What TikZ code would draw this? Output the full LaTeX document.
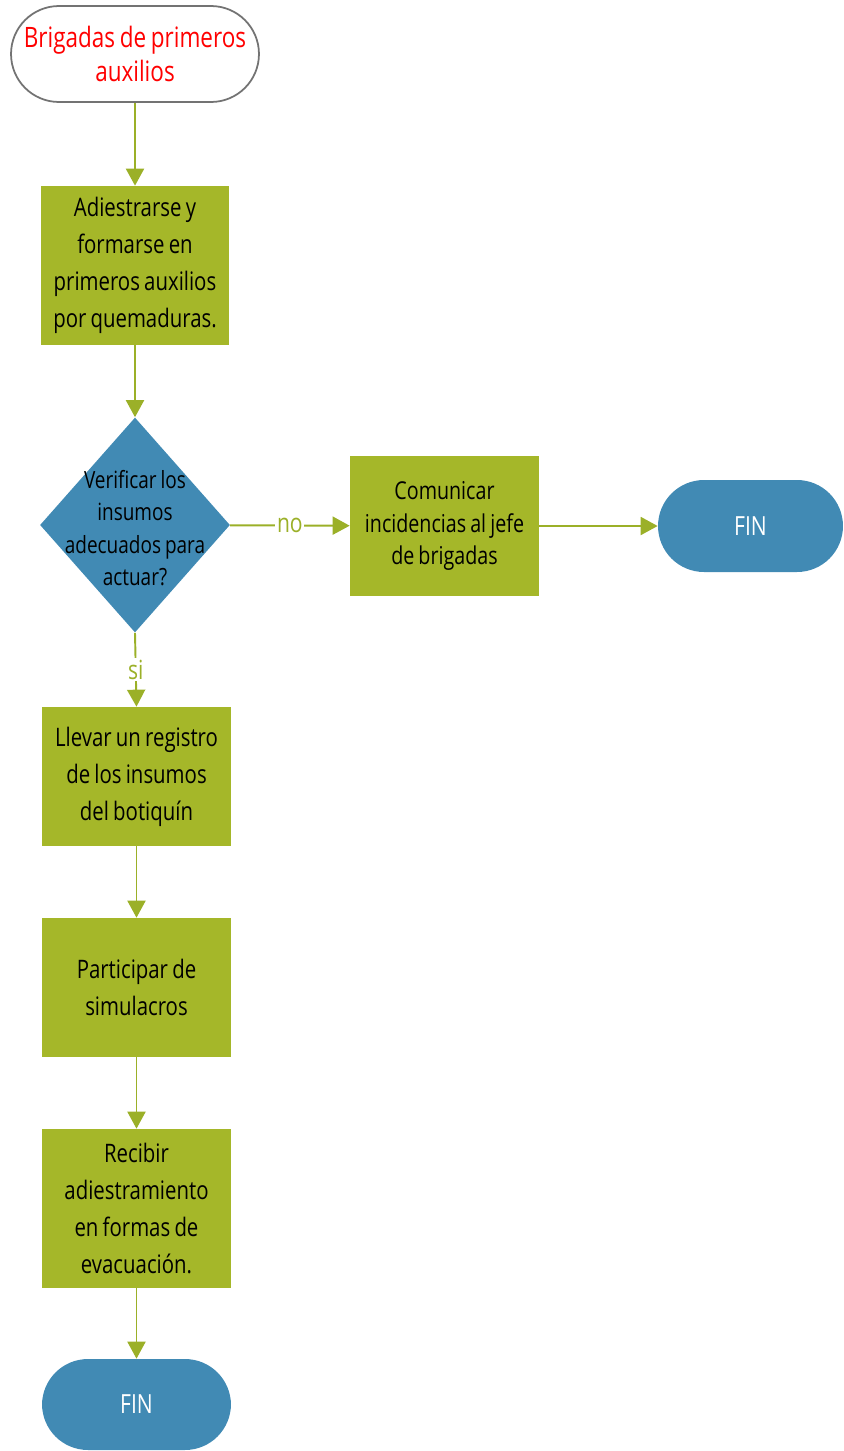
\documentclass[tikz,border=0pt]{standalone}
\usepackage{fontspec}
\setmainfont[FakeStretch=0.8,WordSpace=0.8]{Open Sans}
\usepackage{tikz}
\usetikzlibrary{shapes.geometric,arrows.meta}
\definecolor{olivo}{RGB}{165,183,41}
\definecolor{flecha}{RGB}{155,176,40}
\definecolor{azul}{RGB}{65,138,180}
\tikzset{
  caja/.style={rectangle,fill=olivo,minimum width=3.78cm,align=center,inner sep=0pt,font=\fontsize{14.5}{21}\selectfont},
  fin/.style={rectangle,rounded corners=0.92cm,fill=azul,text=white,minimum width=3.7cm,minimum height=1.84cm,font=\fontsize{15}{21}\selectfont},
  flujo/.style={draw=flecha,line width=1.1pt,-{Triangle[length=0.34cm,width=0.36cm]}},
  etiq/.style={fill=white,text=flecha,inner sep=1pt,font=\fontsize{15}{16}\selectfont}
}
\begin{document}
\begin{tikzpicture}[x=0.02cm,y=-0.02cm]
\useasboundingbox (0,0) rectangle (843,1451);
% inicio
\node[rectangle,rounded corners=0.96cm,draw=black!55,line width=1pt,fill=white,text=red,minimum width=4.96cm,minimum height=1.92cm,align=center,font=\fontsize{16}{19.5}\selectfont] (ini) at (135,54) {Brigadas de primeros\\auxilios};
\node[caja,minimum height=3.18cm] (adies) at (135,265.5) {Adiestrarse y\\formarse en\\primeros auxilios\\por quemaduras.};
% decision
\node[diamond,fill=azul,minimum width=3.8cm,minimum height=4.3cm,inner sep=0pt] (verif) at (135,525) {};
\node[align=center,font=\fontsize{13.5}{18.5}\selectfont] (verift) at (135,528) {Verificar los\\insumos\\adecuados para\\actuar?};
\node[caja,minimum height=2.8cm,font=\fontsize{14}{18.5}\selectfont] (comun) at (444.5,526) {Comunicar\\incidencias al jefe\\de brigadas};
\node[fin] (fin1) at (750.5,526) {FIN};
\node[caja,minimum height=2.78cm] (llevar) at (136.5,776.5) {Llevar un registro\\de los insumos\\del botiquín};
\node[caja,minimum height=2.78cm] (partic) at (136.5,987.5) {Participar de\\simulacros};
\node[caja,minimum height=3.18cm] (recib) at (136.5,1208.5) {Recibir\\adiestramiento\\en formas de\\evacuación.};
\node[fin,minimum width=3.78cm,minimum height=1.82cm] (fin2) at (136.5,1404.5) {FIN};
% conectores
\draw[flujo] (ini) -- (adies);
\draw[flujo] (adies) -- (verif);
\draw[flujo] (verif) -- node[etiq]{no} (comun);
\draw[flujo] (verif.south) -- node[etiq,pos=0.5]{si} (llevar.north);
\draw[flujo] (comun) -- (fin1);
\draw[flujo] (llevar) -- (partic);
\draw[flujo] (partic) -- (recib);
\draw[flujo] (recib) -- (fin2);
\end{tikzpicture}
\end{document}
